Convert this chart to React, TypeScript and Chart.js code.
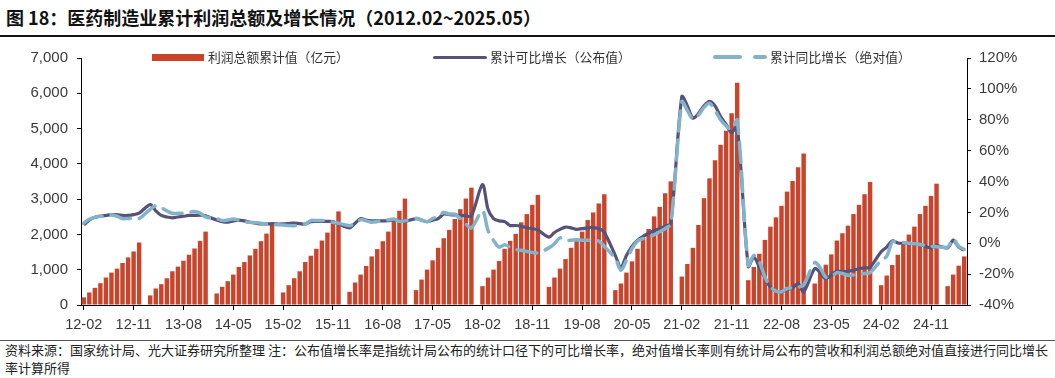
import React, { useEffect, useRef } from "react";
import { Chart, registerables } from "chart.js";

Chart.register(...registerables);

// ---- Data (Feb..Dec each year; January has no cumulative release) ----
const years = [2012, 2013, 2014, 2015, 2016, 2017, 2018, 2019, 2020, 2021, 2022, 2023, 2024, 2025];

// 利润总额累计值（亿元）
const profit2012 = [216, 356, 487, 618, 778, 918, 1031, 1190, 1349, 1518, 1771];
const profit2013 = [272, 468, 590, 759, 956, 1087, 1256, 1424, 1602, 1818, 2080];
const profit2014 = [328, 515, 675, 862, 1078, 1218, 1405, 1593, 1808, 2024, 2343];
const profit2015 = [356, 562, 759, 956, 1218, 1396, 1593, 1827, 2052, 2314, 2652];
const profit2016 = [375, 637, 862, 1106, 1377, 1584, 1808, 2080, 2371, 2670, 3017];
const profit2017 = [422, 721, 1003, 1265, 1621, 1893, 2127, 2436, 2717, 3017, 3326];
const profit2018 = [534, 778, 1003, 1246, 1593, 1818, 2015, 2343, 2577, 2839, 3120];
const profit2019 = [515, 778, 1031, 1302, 1621, 1808, 2080, 2408, 2624, 2877, 3139];
const profit2020 = [422, 609, 918, 1237, 1593, 1893, 2155, 2511, 2783, 3167, 3504];
const profit2021 = [806, 1162, 1621, 2267, 3026, 3589, 4104, 4544, 4938, 5435, 6297];
const profit2022 = [703, 1078, 1452, 1846, 2221, 2483, 2811, 3214, 3514, 3907, 4291];
const profit2023 = [609, 937, 1143, 1434, 1827, 2033, 2249, 2577, 2839, 3139, 3486];
const profit2024 = [562, 834, 1134, 1424, 1715, 1996, 2221, 2577, 2811, 3092, 3439];
const profit2025 = [534, 862, 1115, 1377];

// 累计可比增长（公布值，%）
const comp2012 = [12, 15, 16.8, 17.5, 18, 18.5, 18.5, 18, 18, 18.5, 19.5];
const comp2013 = [25, 21, 18, 17, 16.5, 17, 17.5, 18, 18, 18.2, 17.8];
const comp2014 = [15, 14, 13.6, 14.5, 15, 14.5, 13.6, 13, 12.5, 12.5, 12.5];
const comp2015 = [12.5, 12.8, 13, 12.7, 12.5, 14, 14.2, 14.2, 14.2, 14, 12.5];
const comp2016 = [10, 13, 16, 15, 14.5, 14.5, 14.5, 14.7, 15, 14.5, 14.2];
const comp2017 = [16, 15, 14, 15, 16, 19, 18.5, 18.3, 18, 17.8, 17.5];
const comp2018 = [38, 22, 16, 14.5, 14, 11.5, 11.5, 11, 10, 9.5, 8.6];
const comp2019 = [4, 7, 9, 10.5, 10, 9, 9.5, 10, 10, 9.5, 7];
const comp2020 = [-8, -15.5, -8, -2, 2, 4.5, 6.5, 8.2, 9.5, 11, 12.8];
const comp2021 = [95, 89, 81, 84, 89, 92, 89, 82, 77, 71.5, 76];
const comp2022 = [-15, -9, -15.5, -22.5, -28.5, -31, -31.4, -30, -29, -26, -31.5];
const comp2023 = [-16.4, -19, -23, -20.5, -18, -18.5, -18, -17.5, -16.5, -16, -15.5];
const comp2024 = [-5.5, -2.5, 1.5, 0.2, 0, 0, -0.5, -1, -2, -3, -1.5];
const comp2025 = [-3, 2, -2.5, -4.5];

// 累计同比增长（绝对值，%）
const abs2012 = [13, 15.5, 16.8, 17.5, 18, 18.5, 17.5, 16, 16, 16, 16];
const abs2013 = [22, 24.3, 23, 21, 19.4, 19.4, 19.5, 20, 20.6, 19.5, 17];
const abs2014 = [16, 14.7, 15, 15.7, 15, 14, 13.6, 13.3, 13, 12.5, 12.1];
const abs2015 = [11.8, 11.5, 11.4, 12, 12.5, 14.7, 14.7, 14.7, 14.5, 13.6, 13];
const abs2016 = [11.4, 13, 15.3, 14.5, 13.6, 14, 14.7, 15.2, 15.7, 14.2, 14.5];
const abs2017 = [16.2, 15, 14, 16, 17.5, 19.9, 19, 18.8, 16, 12.5, 9.9];
const abs2018 = [21, 8.3, 1.8, -2.5, -1, -2.5, -4, -4.5, -5.3, -6, -6.3];
const abs2019 = [-3, -0.3, 3.5, 1.8, 2, 2.2, 2, 2, 1.8, 1.4, -2];
const abs2020 = [-10, -17.5, -11, -3.5, 1.5, 3, 4, 5.5, 7.5, 9.5, 12.5];
const abs2021 = [91.7, 86, 80.4, 83, 88, 90.7, 86, 80, 76, 73.6, 79.9];
const abs2022 = [-14.3, -7.9, -12, -21.8, -28.2, -31, -31.4, -29.3, -29, -28.5, -27];
const abs2023 = [-12.5, -16, -22, -21.5, -19, -19.6, -20.7, -20.5, -20, -19.6, -19];
const abs2024 = [-11, -8.5, 0.8, 1, 0.5, 0, -0.3, -0.8, -1.5, -2, -2.2];
const abs2025 = [-2.5, 2.9, -2, -4];

const xTickLabels = ["12-02", "12-11", "13-08", "14-05", "15-02", "15-11", "16-08", "17-05", "18-02", "18-11", "19-08", "20-05", "21-02", "21-11", "22-08", "23-05", "24-02", "24-11"];
const leftTicks = { min: 0, max: 7000, step: 1000 };
const rightTicks = { min: -40, max: 120, step: 20 };

const seriesNames = ["利润总额累计值（亿元）", "累计可比增长（公布值）", "累计同比增长（绝对值）"];

const profitByYear = [profit2012, profit2013, profit2014, profit2015, profit2016, profit2017, profit2018, profit2019, profit2020, profit2021, profit2022, profit2023, profit2024, profit2025];
const compByYear = [comp2012, comp2013, comp2014, comp2015, comp2016, comp2017, comp2018, comp2019, comp2020, comp2021, comp2022, comp2023, comp2024, comp2025];
const absByYear = [abs2012, abs2013, abs2014, abs2015, abs2016, abs2017, abs2018, abs2019, abs2020, abs2021, abs2022, abs2023, abs2024, abs2025];

const categories: string[] = [];
const profit: (number | null)[] = [];
const comp: (number | null)[] = [];
const absv: (number | null)[] = [];
years.forEach((y, yi) => {
  const startM = y === 2012 ? 2 : 1;
  const endM = y === 2025 ? 5 : 12;
  for (let m = startM; m <= endM; m++) {
    categories.push(`${String(y).slice(2)}-${String(m).padStart(2, "0")}`);
    if (m === 1) {
      profit.push(null);
      comp.push(null);
      absv.push(null);
    } else {
      profit.push(profitByYear[yi][m - 2] ?? null);
      comp.push(compByYear[yi][m - 2] ?? null);
      absv.push(absByYear[yi][m - 2] ?? null);
    }
  }
});

const BAR = "#C9442A";
const DARK = "#56527A";
const BLUE = "#82B3CA";
const TXT = "#3a3a3a";

export default function App() {
  const ref = useRef<HTMLCanvasElement>(null);
  useEffect(() => {
    if (!ref.current) return;
    const tickFont = { family: "'Liberation Sans', Arial, sans-serif", size: 15 };
    const chart = new Chart(ref.current, {
      type: "bar",
      data: {
        labels: categories,
        datasets: [
          {
            type: "bar",
            label: seriesNames[0],
            data: profit,
            backgroundColor: BAR,
            borderWidth: 0,
            barPercentage: 0.8,
            categoryPercentage: 1,
            yAxisID: "y",
            order: 3,
          },
          {
            type: "line",
            label: seriesNames[1],
            data: comp,
            borderColor: DARK,
            borderWidth: 3.2,
            pointRadius: 0,
            tension: 0.3,
            spanGaps: true,
            yAxisID: "y1",
            order: 2,
          },
          {
            type: "line",
            label: seriesNames[2],
            data: absv,
            borderColor: BLUE,
            borderWidth: 3.5,
            borderDash: [20, 9],
            borderCapStyle: "round",
            pointRadius: 0,
            tension: 0.3,
            spanGaps: true,
            yAxisID: "y1",
            order: 1,
          },
        ] as any,
      },
      options: {
        animation: false,
        responsive: true,
        maintainAspectRatio: false,
        layout: { padding: { top: 16, left: 0, right: 0, bottom: 0 } },
        plugins: { legend: { display: false }, tooltip: { enabled: false } },
        scales: {
          x: {
            offset: true,
            afterFit: (s: any) => { s.height = 35; },
            grid: {
              offset: false,
              drawOnChartArea: false,
              drawTicks: true,
              tickLength: 5,
              color: (ctx: any) => (xTickLabels.includes(categories[ctx.index]) ? "#000" : "rgba(0,0,0,0)"),
            },
            border: { display: true, color: "#000", width: 1 },
            ticks: {
              autoSkip: false,
              maxRotation: 0,
              minRotation: 0,
              padding: 6,
              color: TXT,
              font: { family: "'Liberation Sans', Arial, sans-serif", size: 14.5 },
              callback: (_v: any, i: number) => (xTickLabels.includes(categories[i]) ? categories[i] : ""),
            },
          },
          y: {
            position: "left",
            min: leftTicks.min,
            max: leftTicks.max,
            afterFit: (s: any) => { s.width = 81; },
            grid: { drawOnChartArea: false, drawTicks: true, tickLength: 4, color: "#000" },
            border: { display: true, color: "#000", width: 1 },
            ticks: {
              stepSize: leftTicks.step,
              padding: 9,
              color: TXT,
              font: tickFont,
              callback: (v: any) => Number(v).toLocaleString("en-US"),
            },
          },
          y1: {
            position: "right",
            min: rightTicks.min,
            max: rightTicks.max,
            afterFit: (s: any) => { s.width = 88; },
            grid: { drawOnChartArea: false, drawTicks: true, tickLength: 4, color: "#000" },
            border: { display: true, color: "#000", width: 1 },
            ticks: {
              stepSize: rightTicks.step,
              padding: 8,
              color: TXT,
              font: tickFont,
              callback: (v: any) => `${v}%`,
            },
          },
        },
      } as any,
    });
    return () => chart.destroy();
  }, []);

  const cjk = "'Noto Sans CJK SC', 'Noto Sans', sans-serif";
  const legendText: React.CSSProperties = {
    position: "absolute",
    top: 48,
    fontFamily: cjk,
    fontSize: 12.8,
    lineHeight: "18px",
    color: "#333",
    whiteSpace: "nowrap",
  };
  const noteText: React.CSSProperties = {
    position: "absolute",
    left: 5,
    fontFamily: cjk,
    fontSize: 13,
    lineHeight: "18px",
    color: "#222",
    whiteSpace: "nowrap",
  };

  return (
    <div style={{ position: "absolute", left: 0, top: 0, width: 1055, height: 378, background: "#fff", overflow: "hidden" }}>
      <div style={{ position: "absolute", left: 6, top: 5, fontFamily: cjk, fontWeight: 700, fontSize: 18, lineHeight: "24px", color: "#111", whiteSpace: "nowrap" }}>
        图 18：医药制造业累计利润总额及增长情况（2012.02~2025.05）
      </div>
      <div style={{ position: "absolute", left: 0, top: 35, width: 1055, height: 1.5, background: "#111" }} />
      <div style={{ position: "absolute", left: 0, top: 40, width: 1055, height: 300 }}>
        <canvas ref={ref} />
      </div>
      {/* legend */}
      <div style={{ position: "absolute", left: 152, top: 54, width: 52, height: 7, background: BAR }} />
      <div style={{ ...legendText, left: 208 }}>{seriesNames[0]}</div>
      <div style={{ position: "absolute", left: 433, top: 55.5, width: 54, height: 3, background: DARK, borderRadius: 1.5 }} />
      <div style={{ ...legendText, left: 490 }}>{seriesNames[1]}</div>
      <div style={{ position: "absolute", left: 713, top: 55, width: 29, height: 3.5, background: BLUE, borderRadius: 2 }} />
      <div style={{ position: "absolute", left: 753, top: 55, width: 14, height: 3.5, background: BLUE, borderRadius: 2 }} />
      <div style={{ ...legendText, left: 770 }}>{seriesNames[2]}</div>
      <div style={{ position: "absolute", left: 0, top: 340, width: 1055, height: 1, background: "#555" }} />
      <div style={{ ...noteText, top: 341 }}>
        资料来源：国家统计局、光大证券研究所整理 注：公布值增长率是指统计局公布的统计口径下的可比增长率，绝对值增长率则有统计局公布的营收和利润总额绝对值直接进行同比增长
      </div>
      <div style={{ ...noteText, top: 359 }}>率计算所得</div>
    </div>
  );
}
